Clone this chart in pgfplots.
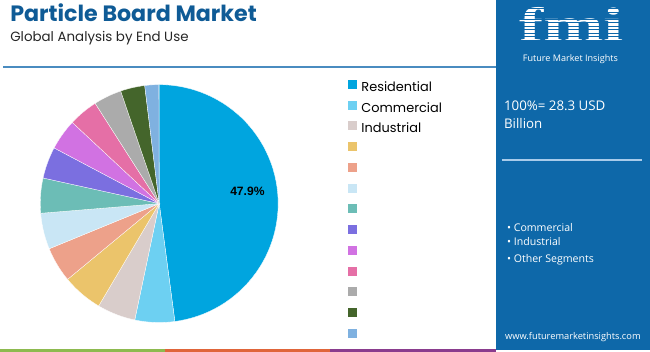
\documentclass[border=0pt]{standalone}
\usepackage{pgfplots}
\pgfplotsset{compat=1.18}
\usepackage{pgfplotstable}
\usepackage{fontspec}
\setmainfont{Poppins}
\newfontfamily\opensans{Open Sans}
\newfontfamily\arialf{Liberation Sans}
\newfontfamily\logofont{Liberation Serif}

\definecolor{cRes}{HTML}{00A5DF}
\definecolor{cCom}{HTML}{6DD0F2}
\definecolor{cInd}{HTML}{D9CDCB}
\definecolor{cYel}{HTML}{EBC46B}
\definecolor{cSal}{HTML}{EDA18A}
\definecolor{cPal}{HTML}{C9E6F5}
\definecolor{cTea}{HTML}{6CBDB6}
\definecolor{cPur}{HTML}{7B6FE0}
\definecolor{cVio}{HTML}{D172E2}
\definecolor{cPin}{HTML}{E56FA6}
\definecolor{cGry}{HTML}{ABABAB}
\definecolor{cGrn}{HTML}{44652B}
\definecolor{cStl}{HTML}{7FB1E0}
\definecolor{panelblue}{HTML}{0E68A9}
\definecolor{titleblue}{HTML}{0F5B96}
\definecolor{hline}{HTML}{4A8CC0}
\definecolor{panelline}{HTML}{A8CBEA}
\definecolor{barG}{HTML}{8DBA4F}
\definecolor{barO}{HTML}{E0653A}
\definecolor{barP}{HTML}{8A3C8E}

\pgfplotstableread{
name value color
Residential 47.9 cRes
Commercial 5.4 cCom
Industrial 5.2 cInd
S4 5.5 cYel
S5 4.8 cSal
S6 4.9 cPal
S7 4.75 cTea
S8 4.3 cPur
S9 4.2 cVio
S10 4.0 cPin
S11 3.8 cGry
S12 3.3 cGrn
S13 1.9 cStl
}\piedata

\begin{document}
\begin{tikzpicture}
\gdef\cum{0}
\foreach \i in {0,...,12}{%
  \pgfplotstablegetelem{\i}{value}\of\piedata
  \let\val\pgfplotsretval
  \pgfmathsetmacro\s{90-3.6*\cum}%
  \pgfmathsetmacro\newcum{\cum+\val}%
  \pgfmathsetmacro\e{90-3.6*\newcum}%
  \expandafter\xdef\csname pa\i\endcsname{\e}%
  \expandafter\xdef\csname pb\i\endcsname{\s}%
  \pgfplotstablegetelem{\i}{color}\of\piedata
  \expandafter\xdef\csname pc\i\endcsname{\pgfplotsretval}%
  \pgfplotstablegetelem{\i}{name}\of\piedata
  \expandafter\xdef\csname pn\i\endcsname{\pgfplotsretval}%
  \xdef\cum{\newcum}%
}
\begin{axis}[
  hide axis, scale only axis, width=650pt, height=352pt,
  xmin=0, xmax=650, ymin=0, ymax=352, clip=false,
  legend image code/.code={\fill[#1,draw=none] (0pt,-1pt) rectangle (9pt,8pt);},
  legend style={at={(axis cs:344,272)}, anchor=north west, draw=none, fill=none,
    font=\fontsize{12.8}{15}\selectfont, row sep=5.6pt,
    cells={anchor=west},
    nodes={inner sep=0.5pt, text height=10pt, text depth=3pt},
    /tikz/every odd column/.append style={column sep=4pt}},
]
% header
\node[anchor=base west, font=\bfseries\fontsize{22}{24}\selectfont, text=titleblue, inner sep=0] at (axis cs:12,328) {Particle Board Market};
\node[anchor=base west, font=\fontsize{13.3}{16}\selectfont, text=black!85, inner sep=0] at (axis cs:12,308) {Global Analysis by End Use};
\draw[hline, line width=2pt] (axis cs:5,283) -- (axis cs:494,283);
% bottom bars
\fill[barG] (axis cs:2,0) rectangle (axis cs:166,3);
\fill[barO] (axis cs:166,0) rectangle (axis cs:329,3);
\fill[barP] (axis cs:329,0) rectangle (axis cs:494,3);
% pie
\pgfplotsinvokeforeach{0,...,12}{%
  \edef\doslice{\noexpand\addplot[fill=\csname pc#1\endcsname, draw=white, line width=0.3pt,
     domain=\csname pa#1\endcsname:\csname pb#1\endcsname, samples=60, variable=\noexpand\t]
     ({160+118*cos(\noexpand\t)},{147+118*sin(\noexpand\t)}) -- (axis cs:160,147) -- cycle;}%
  \doslice
  \ifnum#1<3
    \edef\dolegend{\noexpand\addlegendentry{\csname pn#1\endcsname}}\dolegend
  \else
    \addlegendentry{\mbox{}}
  \fi
}
\node[font=\arialf\bfseries\fontsize{12}{12}\selectfont] at (axis cs:247.5,159.5) {47.9\%};
% right panel
\fill[panelblue] (axis cs:494,2) rectangle (axis cs:647,349);
\node[anchor=base, font=\logofont\bfseries\fontsize{48}{48}\selectfont, text=white, xscale=1.5, inner sep=0] at (axis cs:569,308) {fmi};
\pgfplotsinvokeforeach{309,312.5,316,319.5,323,326.5,330,333.5,337,340.5}{%
  \draw[panelblue, line width=0.7pt] (axis cs:510,#1) -- (axis cs:630,#1);}
\node[anchor=base, font=\opensans\fontsize{9}{10}\selectfont, text=white, inner sep=0] at (axis cs:568,287.5) {Future Market Insights};
\node[anchor=base west, font=\opensans\fontsize{13.2}{16}\selectfont, text=white, inner sep=0] at (axis cs:502,239.7) {100\%= 28.3 USD};
\node[anchor=base west, font=\opensans\fontsize{13.2}{16}\selectfont, text=white, inner sep=0] at (axis cs:502,221.3) {Billion};
\draw[panelline, line width=1.5pt] (axis cs:500,190) -- (axis cs:639,190);
\node[anchor=base west, font=\opensans\fontsize{10.5}{12}\selectfont, text=white, inner sep=0] at (axis cs:505,119.3) {\textbullet\ Commercial};
\node[anchor=base west, font=\opensans\fontsize{10.5}{12}\selectfont, text=white, inner sep=0] at (axis cs:505,105.3) {\textbullet\ Industrial};
\node[anchor=base west, font=\opensans\fontsize{10.5}{12}\selectfont, text=white, inner sep=0] at (axis cs:505,88.7) {\textbullet\ Other Segments};
\node[anchor=base, font=\opensans\fontsize{9.2}{12}\selectfont, text=white, inner sep=0] at (axis cs:570.5,12) {www.futuremarketinsights.com};
\end{axis}
\end{tikzpicture}
\end{document}
